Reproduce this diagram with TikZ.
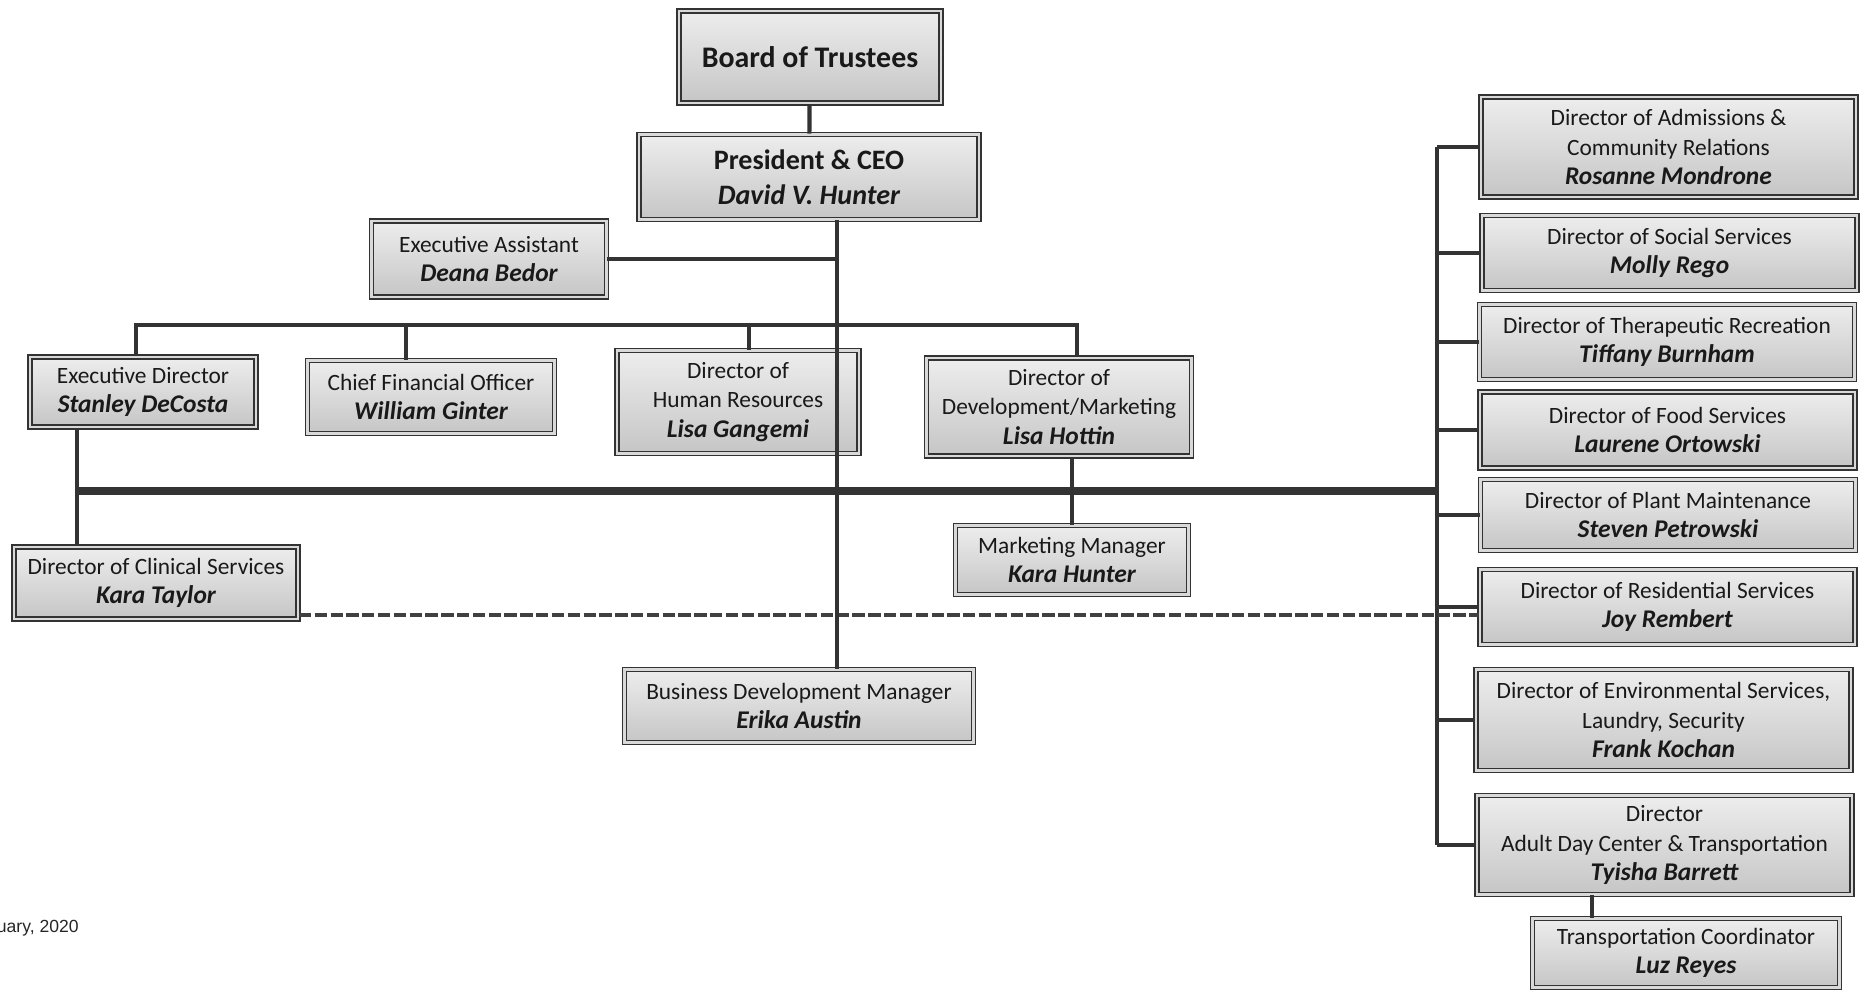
\documentclass[tikz,border=0pt]{standalone}
\usepackage{fontspec}
\setmainfont{Carlito}
\newfontfamily\datefont{Liberation Sans}
\usetikzlibrary{calc}

\newcommand{\who}[1]{{\fontsize{14.5}{16.8}\selectfont\bfseries\itshape #1}}

\begin{document}
\begin{tikzpicture}[
        box/.style={draw=black!80, line width=1pt, double=gray!30, double distance=1.2pt,
            top color=gray!14, bottom color=gray!45, align=center, inner sep=1pt,
            text=black!90, font=\fontsize{13.3}{16.8}\selectfont},
        rbox/.style={box, minimum width=7.5cm},
        conn/.style={draw=black!80, line width=2.4pt},
        bus/.style={draw=black!80, line width=4.5pt},
        dashline/.style={draw=black!75, line width=2.6pt, dash pattern=on 7pt off 2pt},
    ]
    \useasboundingbox (0,0) rectangle (37.32,19.86);

    % Top of the chart
    \node[box, minimum width=5.25cm, minimum height=1.85cm, font=\fontsize{17}{20}\selectfont\bfseries] (board) at (16.20,18.72) {Board of Trustees};
    \node[box, minimum width=6.8cm, minimum height=1.7cm, font=\fontsize{16}{20}\selectfont] (pres) at (16.18,16.32) {\textbf{President \& CEO}\\{\bfseries\itshape David V. Hunter}};
    \node[box, minimum width=4.7cm, minimum height=1.52cm] (ea) at (9.78,14.68) {Executive Assistant\\\who{Deana Bedor}};

    % Second row
    \node[box, minimum width=4.52cm, minimum height=1.4cm] (ed) at (2.86,12.02) {Executive Director\\\who{Stanley DeCosta}};
    \node[box, minimum width=4.94cm, minimum height=1.46cm] (cfo) at (8.62,11.92) {Chief Financial Officer\\\who{William Ginter}};
    \node[box, minimum width=4.84cm, minimum height=2.06cm] (hr) at (14.76,11.82) {Director of\\Human Resources\\\who{Lisa Gangemi}};
    \node[box, minimum width=5.3cm, minimum height=1.96cm] (dev) at (21.18,11.72) {Director of\\Development/Marketing\\\who{Lisa Hottin}};

    % Lower row
    \node[box, minimum width=5.68cm, minimum height=1.44cm] (clin) at (3.12,8.20) {Director of Clinical Services\\\who{Kara Taylor}};
    \node[box, minimum width=4.66cm, minimum height=1.38cm] (mm) at (21.44,8.66) {Marketing Manager\\\who{Kara Hunter}};
    \node[box, minimum width=6.98cm, minimum height=1.46cm] (bdm) at (15.98,5.74) {Business Development Manager\\\who{Erika Austin}};

    % Right column
    \node[rbox, minimum height=2.0cm] (adm) at (33.37,16.92) {Director of Admissions \&\\Community Relations\\\who{Rosanne Mondrone}};
    \node[rbox, minimum height=1.5cm] (soc) at (33.39,14.80) {Director of Social Services\\\who{Molly Rego}};
    \node[rbox, minimum height=1.5cm] (ther) at (33.34,13.02) {Director of Therapeutic Recreation\\\who{Tiffany Burnham}};
    \node[rbox, minimum height=1.52cm] (food) at (33.35,11.26) {Director of Food Services\\\who{Laurene Ortowski}};
    \node[rbox, minimum height=1.42cm] (plant) at (33.36,9.56) {Director of Plant Maintenance\\\who{Steven Petrowski}};
    \node[rbox, minimum height=1.5cm] (res) at (33.35,7.72) {Director of Residential Services\\\who{Joy Rembert}};
    \node[rbox, minimum height=2.02cm] (env) at (33.27,5.46) {Director of Environmental Services,\\Laundry, Security\\\who{Frank Kochan}};
    \node[rbox, minimum height=1.98cm] (adult) at (33.29,2.96) {Director\\Adult Day Center \& Transportation\\\who{Tyisha Barrett}};
    \node[box, minimum width=6.14cm, minimum height=1.38cm] (tc) at (33.72,0.80) {Transportation Coordinator\\\who{Luz Reyes}};

    \node[anchor=east, font=\datefont\fontsize{10}{12}\selectfont, text=black!85, inner sep=0pt] (date) at (1.58,1.30) {uary, 2020};

    % Guide positions for the lines
    \coordinate (trunk) at (16.74,0);
    \coordinate (tbus) at (0,13.36);
    \coordinate (mbus) at (0,10.04);
    \coordinate (rtrunk) at (28.74,0);
    \coordinate (edx) at (1.54,0);
    \coordinate (edtx) at (2.72,0);
    \coordinate (cfox) at (8.12,0);
    \coordinate (hrx) at (14.98,0);
    \coordinate (devx) at (21.54,0);
    \coordinate (tcx) at (31.84,0);
    \coordinate (dashy) at (0,7.56);

    % Upper bus
    \draw[conn] (board) -- (pres);
    \draw[conn] (ea.east) -- (ea.east -| trunk);
    \draw[conn] (edtx |- ed.north) |- (devx |- tbus) -- (devx |- dev.north);
    \draw[conn] (cfox |- cfo.north) -- (cfox |- tbus);
    \draw[conn] (hrx |- hr.north) -- (hrx |- tbus);

    % Lower bus and right column
    \draw[conn] (edx |- ed.south) -- (edx |- clin.north);
    \draw[bus] (edx |- mbus) -- (rtrunk |- mbus);
    \draw[conn] (mm.north |- dev.south) -- (mm.north);
    \draw[conn] (rtrunk |- adm.west) -- (rtrunk |- adult.west);
    \foreach \n in {adm,soc,ther,food,plant,res,env,adult}
        \draw[conn] (rtrunk |- \n.west) -- (\n.west);
    \draw[conn] (tcx |- adult.south) -- (tcx |- tc.north);
    \draw[dashline] (clin.east |- dashy) -- (res.west |- dashy);

    % Main line over the boxes
    \draw[conn] (pres.south -| trunk) -- (bdm.north -| trunk);
\end{tikzpicture}
\end{document}
